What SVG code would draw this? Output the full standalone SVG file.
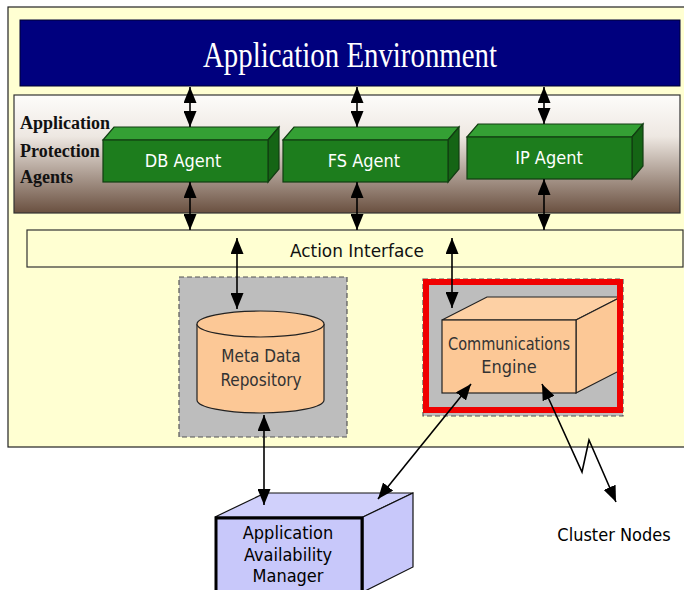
<svg xmlns="http://www.w3.org/2000/svg" width="684" height="590" viewBox="0 0 684 590">
<defs>
<linearGradient id="brown" x1="0" y1="0" x2="0" y2="1">
<stop offset="0" stop-color="#fdfcfa"/>
<stop offset="0.35" stop-color="#eee8e2"/>
<stop offset="1" stop-color="#6a5040"/>
</linearGradient>
<marker id="ah" markerUnits="userSpaceOnUse" markerWidth="16" markerHeight="13" refX="16" refY="6.5" orient="auto-start-reverse" viewBox="0 0 16 13">
<path d="M0,0 L16,6.5 L0,13 z" fill="#000"/>
</marker>
</defs>
<style>
.edge{stroke:#000;stroke-width:1.6;fill:none;marker-start:url(#ah);marker-end:url(#ah)}
.gf{fill:#1d7d1d;stroke:#123d12;stroke-width:1.2}
.gt{fill:#34a034;stroke:#123d12;stroke-width:1.2}
.gr{fill:#156515;stroke:#123d12;stroke-width:1.2}
.wt{font-family:"DejaVu Sans Condensed","Liberation Sans",sans-serif;font-size:18px;fill:#fff;text-anchor:middle}
.dk{font-family:"DejaVu Sans Condensed","Liberation Sans",sans-serif;font-size:17px;fill:#333;text-anchor:middle}
.pe{fill:#fcc896;stroke:#222;stroke-width:1.2}
.lv{fill:#c8c8fa;stroke:#111;stroke-width:1.2}
.sf{font-family:"Liberation Serif","Times New Roman",serif;font-size:18px;font-weight:bold;fill:#111}
.bk{font-family:"DejaVu Sans Condensed","Liberation Sans",sans-serif;font-size:18px;fill:#000;text-anchor:middle}
</style>
<g id="background">
<rect x="8" y="7" width="680" height="440" fill="#ffffd2" stroke="#222" stroke-width="1.2"/>
</g>
<g id="app-env">
<rect x="20" y="20" width="660" height="66" fill="#00007e" stroke="#000030" stroke-width="1"/>
<text x="350" y="67" font-family="Liberation Serif,serif" font-size="36" fill="#fff" text-anchor="middle" textLength="294" lengthAdjust="spacingAndGlyphs">Application Environment</text>
</g>
<g id="agents-panel">
<rect x="14" y="95" width="666" height="118" fill="url(#brown)" stroke="#333" stroke-width="1.2"/>
<text class="sf" x="20" y="129">Application</text>
<text class="sf" x="20" y="157">Protection</text>
<text class="sf" x="20" y="183">Agents</text>
</g>
<g id="db-agent">
<polygon class="gt" points="103,140 114,127 279,127 268,140"/>
<polygon class="gr" points="268,140 279,127 279,169 268,182"/>
<rect class="gf" x="103" y="140" width="165" height="42"/>
<text class="wt" x="183" y="167">DB Agent</text>
</g>
<g id="fs-agent">
<polygon class="gt" points="283,140 294,127 459,127 448,140"/>
<polygon class="gr" points="448,140 459,127 459,169 448,182"/>
<rect class="gf" x="283" y="140" width="165" height="42"/>
<text class="wt" x="364" y="167">FS Agent</text>
</g>
<g id="ip-agent">
<polygon class="gt" points="467,137 478,124 643,124 632,137"/>
<polygon class="gr" points="632,137 643,124 643,166 632,179"/>
<rect class="gf" x="467" y="137" width="165" height="42"/>
<text class="wt" x="549" y="164">IP Agent</text>
</g>
<g id="action-interface">
<rect x="27" y="230" width="656" height="37" fill="#ffffd2" stroke="#333" stroke-width="1.2"/>
<text x="357" y="257" font-family="DejaVu Sans Condensed,Liberation Sans,sans-serif" font-size="18" fill="#111" text-anchor="middle" textLength="134" lengthAdjust="spacingAndGlyphs">Action Interface</text>
</g>
<g id="meta-data">
<rect x="179" y="277" width="168" height="160" fill="#bdbdbd" stroke="#555" stroke-width="1.2" stroke-dasharray="5,3"/>
<path class="pe" d="M197,324 L197,400 A63.5,13 0 0 0 324,400 L324,324"/>
<ellipse class="pe" cx="260.5" cy="324" rx="63.5" ry="13"/>
<text class="dk" x="261" y="362">Meta Data</text>
<text class="dk" x="261" y="386">Repository</text>
</g>
<g id="comm-engine">
<rect x="423" y="279" width="200" height="137" fill="#bdbdbd" stroke="#555" stroke-width="1.2" stroke-dasharray="5,3"/>
<polygon class="pe" points="442,320 487,297 621,297 576,320" style="fill:#fdd0a4"/>
<polygon class="pe" points="576,320 621,297 621,370 576,393"/>
<rect class="pe" x="442" y="320" width="134" height="73"/>
<rect x="426" y="282" width="194" height="128" fill="none" stroke="#f00000" stroke-width="6"/>
<text class="dk" x="509" y="350" textLength="122" lengthAdjust="spacingAndGlyphs">Communications</text>
<text class="dk" x="509" y="373" style="font-size:18px">Engine</text>
</g>
<g id="aam">
<polygon class="lv" points="215,517 265,493 413,493 363,517" style="fill:#d0d0fb"/>
<polygon class="lv" points="363,517 413,493 413,567 363,592"/>
<rect x="216" y="518" width="146" height="80" fill="#c8c8fa" stroke="#000" stroke-width="3"/>
<text class="bk" x="288" y="539">Application</text>
<text class="bk" x="288" y="561">Availability</text>
<text class="bk" x="288" y="582">Manager</text>
</g>
<g id="cluster-nodes">
<text class="bk" x="614" y="541">Cluster Nodes</text>
</g>
<g id="connectors">
<line class="edge" x1="190" y1="87" x2="190" y2="127"/>
<line class="edge" x1="357" y1="87" x2="357" y2="127"/>
<line class="edge" x1="544" y1="87" x2="544" y2="124"/>
<line class="edge" x1="190" y1="182" x2="190" y2="230"/>
<line class="edge" x1="357" y1="182" x2="357" y2="230"/>
<line class="edge" x1="544" y1="179" x2="544" y2="230"/>
<line class="edge" x1="237" y1="238" x2="237" y2="309"/>
<line class="edge" x1="452" y1="238" x2="452" y2="308"/>
<line class="edge" x1="264" y1="415" x2="264" y2="505"/>
<line class="edge" x1="471" y1="384" x2="378" y2="499"/>
<polyline class="edge" points="542,384 582,472 589,440 616,502"/>
</g>
</svg>
